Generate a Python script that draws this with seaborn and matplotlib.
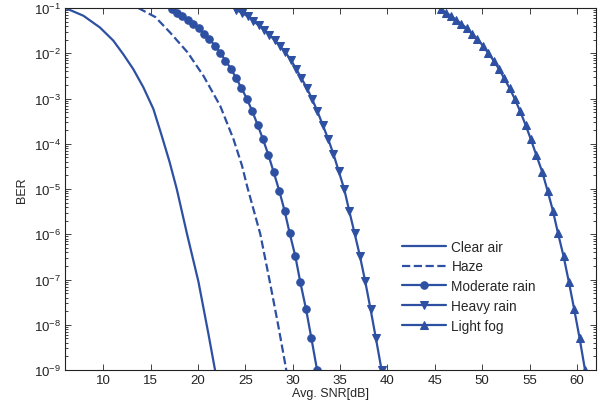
# BER versus average SNR for several weather conditions
import pandas as pd
import matplotlib
matplotlib.use("Agg")
import matplotlib.pyplot as plt
import matplotlib.ticker as mticker
import seaborn as sns

sns.set_style("ticks")
plt.rcParams['font.family'] = ['Liberation Sans', 'DejaVu Sans']
plt.rcParams['mathtext.fontset'] = 'custom'
plt.rcParams['mathtext.rm'] = 'Liberation Sans'
plt.rcParams['mathtext.it'] = 'Liberation Sans:italic'
plt.rcParams['xtick.direction'] = 'in'
plt.rcParams['ytick.direction'] = 'in'

# Values (SNR in dB, BER as power of ten)
clear_snr = [6.0, 7.9, 9.65, 11.06, 12.11, 13.17, 14.23, 15.29, 16.17, 17.0, 17.76, 18.85, 20.05, 21.1, 21.8]
clear_exp = [-1.0, -1.17, -1.43, -1.72, -2.02, -2.35, -2.75, -3.23, -3.82, -4.4, -5.0, -6.0, -7.05, -8.2, -9.0]

haze_snr = [13.7, 15.5, 17.05, 18.9, 20.58, 22.34, 23.75, 24.64, 25.2, 26.57, 27.63, 28.51, 29.32]
haze_exp = [-1.0, -1.2, -1.54, -1.98, -2.5, -3.16, -3.9, -4.48, -4.95, -5.99, -7.1, -8.06, -9.0]

mod_snr = [17.23, 17.83, 18.35, 18.93, 19.52, 20.09, 20.65, 21.21, 21.78, 22.34,
           22.90, 23.47, 24.03, 24.59, 25.17, 25.73, 26.29, 26.86, 27.42, 27.98,
           28.58, 29.14, 29.67, 30.28, 30.80, 31.41, 31.97, 32.57]
mod_exp = [-1.02, -1.10, -1.17, -1.26, -1.35, -1.45, -1.57, -1.69, -1.83, -1.99,
           -2.16, -2.34, -2.55, -2.77, -3.01, -3.28, -3.58, -3.90, -4.24, -4.62,
           -5.04, -5.48, -5.97, -6.49, -7.06, -7.66, -8.30, -9.0]

heavy_snr = [24.03, 24.64, 25.23, 25.80, 26.39, 26.96, 27.53, 28.09, 28.66, 29.22,
             29.78, 30.35, 30.91, 31.47, 32.04, 32.60, 33.16, 33.73, 34.30, 34.86,
             35.43, 35.96, 36.52, 37.08, 37.65, 38.21, 38.77, 39.37]
heavy_exp = [-1.04, -1.11, -1.18, -1.28, -1.38, -1.48, -1.59, -1.71, -1.84, -1.98,
             -2.14, -2.34, -2.55, -2.76, -3.01, -3.28, -3.58, -3.89, -4.23, -4.61,
             -5.00, -5.48, -5.97, -6.47, -7.04, -7.65, -8.29, -8.99]

fog_snr = [45.61, 46.14, 46.67, 47.23, 47.80, 48.36, 48.92, 49.49, 50.06, 50.62,
           51.19, 51.75, 52.31, 52.88, 53.44, 54.00, 54.57, 55.13, 55.69, 56.33,
           56.90, 57.46, 57.99, 58.59, 59.15, 59.71, 60.28, 60.85]
fog_exp = [-1.02, -1.10, -1.17, -1.26, -1.35, -1.45, -1.57, -1.69, -1.83, -1.99,
           -2.16, -2.34, -2.55, -2.77, -3.01, -3.28, -3.58, -3.90, -4.24, -4.62,
           -5.04, -5.48, -5.97, -6.49, -7.06, -7.66, -8.30, -9.0]

x_ticks = [10, 15, 20, 25, 30, 35, 40, 45, 50, 55, 60]
y_exps = [-9, -8, -7, -6, -5, -4, -3, -2, -1]

cor = '#2d50a2'

series = [
    ('Clear air', clear_snr, clear_exp, '-', None, 0),
    ('Haze', haze_snr, haze_exp, '--', None, 0),
    ('Moderate rain', mod_snr, mod_exp, '-', 'o', 5.4),
    ('Heavy rain', heavy_snr, heavy_exp, '-', 'v', 5.8),
    ('Light fog', fog_snr, fog_exp, '-', '^', 5.8),
]

fig = plt.figure(figsize=(6.05, 4.10), dpi=100)
ax = fig.add_axes([0.108, 0.095, 0.877, 0.883])

for nome, snr, expo, estilo, marcador, tam in series:
    df = pd.DataFrame({'snr': snr, 'ber': [10.0 ** e for e in expo]})
    kw = dict(color=cor, linewidth=1.6, linestyle=estilo, label=nome, ax=ax, sort=False)
    if marcador is not None:
        kw.update(marker=marcador, markersize=tam, markeredgecolor=cor, markerfacecolor=cor)
    if estilo == '--':
        kw.update(dashes=(3.2, 2.6))
    sns.lineplot(data=df, x='snr', y='ber', **kw)

ax.set_yscale('log')
ax.set_xlim(6, 62)
ax.set_ylim(1e-9, 1e-1)
ax.set_xticks(x_ticks)
ax.set_yticks([10.0 ** e for e in y_exps])
ax.yaxis.set_major_formatter(mticker.LogFormatterMathtext())
ax.yaxis.set_minor_locator(mticker.LogLocator(base=10, subs=range(2, 10), numticks=20))
ax.yaxis.set_minor_formatter(mticker.NullFormatter())
ax.tick_params(which='both', top=True, right=True, labelsize=9.5, colors='#222222', width=0.6)
ax.tick_params(which='major', length=4.5, pad=3)
ax.tick_params(which='minor', length=2.5)
for s in ax.spines.values():
    s.set_linewidth(0.8)
    s.set_color('#222222')

ax.set_xlabel('Avg. SNR[dB]', fontsize=9, labelpad=0.5)
ax.set_ylabel('BER', fontsize=9, labelpad=4)

ax.legend(loc='upper left', bbox_to_anchor=(0.625, 0.375), frameon=False, fontsize=9.8,
          handlelength=3.2, handletextpad=0.4, labelspacing=0.42, borderaxespad=0)

plt.savefig('out.png', dpi=100)
